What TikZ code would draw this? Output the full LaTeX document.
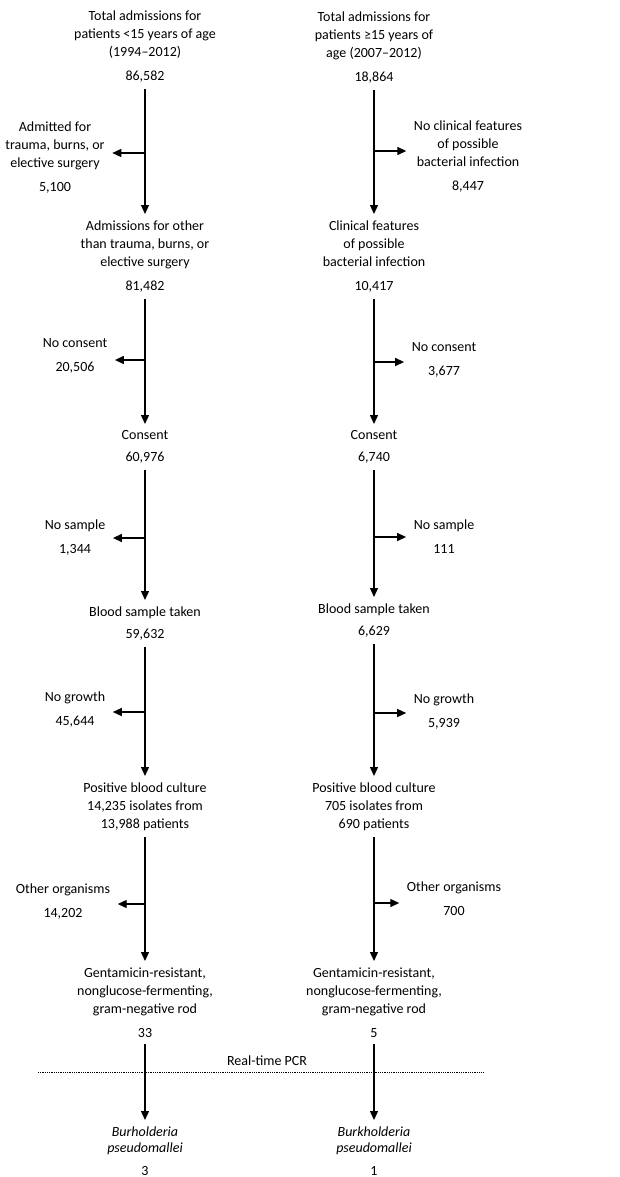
\documentclass[tikz,border=0pt]{standalone}
\usepackage{fontspec}
\setmainfont{Carlito}
\usepackage{tikz}
\usetikzlibrary{arrows.meta}

\begin{document}
\begin{tikzpicture}[->,>={Triangle[width=8pt,length=9pt]},x=1pt,y=-1pt,
		line width=1.3pt,shorten >=6pt,shorten <=6pt,
		main node/.style={align=center,inner sep=0pt,anchor=north,font=\fontsize{14}{18}\selectfont},
		side node/.style={main node,inner xsep=7pt}]
		
		\useasboundingbox (0,0) rectangle (620,1177);
		
		% left column
		\node[main node] (L1) at (145,10) {Total admissions for\\patients <15 years of age\\(1994--2012)\\[6pt]86,582};
		\node[main node] (L2) at (145,220) {Admissions for other\\than trauma, burns, or\\elective surgery\\[6pt]81,482};
		\node[main node] (L3) at (145,430) {Consent\\[4pt]60,976};
		\node[main node] (L4) at (145,606) {Blood sample taken\\[4pt]59,632};
		\node[main node] (L5) at (145,782) {Positive blood culture\\14,235 isolates from\\13,988 patients};
		\node[main node] (L6) at (145,967) {Gentamicin-resistant,\\nonglucose-fermenting,\\gram-negative rod\\[6pt]33};
		\node[main node] (L7) at (145,1126) {\textit{Burholderia}\\[-2pt]\textit{pseudomallei}\\[5pt]3};
		
		\node[side node] (LS1) at (55,121) {Admitted for\\trauma, burns, or\\elective surgery\\[6pt]5,100};
		\node[side node] (LS2) at (75,338) {No consent\\[6pt]20,506};
		\node[side node] (LS3) at (75,519) {No sample\\[6pt]1,344};
		\node[side node] (LS4) at (75,691) {No growth\\[6pt]45,644};
		\node[side node] (LS5) at (63,883) {Other organisms\\[6pt]14,202};
		
		% right column
		\node[main node] (R1) at (374,11) {Total admissions for\\patients ≥15 years of\\age (2007--2012)\\[6pt]18,864};
		\node[main node] (R2) at (374,220) {Clinical features\\of possible\\bacterial infection\\[6pt]10,417};
		\node[main node] (R3) at (374,430) {Consent\\[4pt]6,740};
		\node[main node] (R4) at (374,603) {Blood sample taken\\[4pt]6,629};
		\node[main node] (R5) at (374,782) {Positive blood culture\\705 isolates from\\690 patients};
		\node[main node] (R6) at (374,967) {Gentamicin-resistant,\\nonglucose-fermenting,\\gram-negative rod\\[6pt]5};
		\node[main node] (R7) at (374,1126) {\textit{Burkholderia}\\[-2pt]\textit{pseudomallei}\\[5pt]1};
		
		\node[side node] (RS1) at (468,120) {No clinical features\\of possible\\bacterial infection\\[6pt]8,447};
		\node[side node] (RS2) at (444,342) {No consent\\[6pt]3,677};
		\node[side node] (RS3) at (444,519) {No sample\\[6pt]111};
		\node[side node] (RS4) at (444,693) {No growth\\[6pt]5,939};
		\node[side node] (RS5) at (454,881) {Other organisms\\[6pt]700};
		
		\coordinate (LJ1) at (145,153);
		\coordinate (LJ2) at (145,360);
		\coordinate (LJ3) at (145,538);
		\coordinate (LJ4) at (145,712);
		\coordinate (LJ5) at (145,904);
		\coordinate (RJ1) at (374,151);
		\coordinate (RJ2) at (374,362);
		\coordinate (RJ3) at (374,537);
		\coordinate (RJ4) at (374,713);
		\coordinate (RJ5) at (374,903);
		
		\foreach \a/\b in {L1/L2,L2/L3,L3/L4,L4/L5,L5/L6,L6/L7,R1/R2,R2/R3,R3/R4,R4/R5,R5/R6,R6/R7}
		\draw (\a) -- (\b);
		
		\foreach \i in {1,...,5}{
			\draw[shorten <=0pt,shorten >=0pt] (LJ\i) -- (LJ\i -| LS\i.east);
			\draw[shorten <=0pt,shorten >=0pt] (RJ\i) -- (RJ\i -| RS\i.west);
		}
		
		% real-time PCR
		\coordinate (PL) at (38,1072);
		\coordinate (PR) at (483,1072);
		\draw[-,line width=0.8pt,densely dotted,shorten <=0pt,shorten >=0pt] (PL) -- (PR);
		\node[main node,anchor=center] (PCR) at (267,1061) {Real-time PCR};
\end{tikzpicture}
\end{document}
